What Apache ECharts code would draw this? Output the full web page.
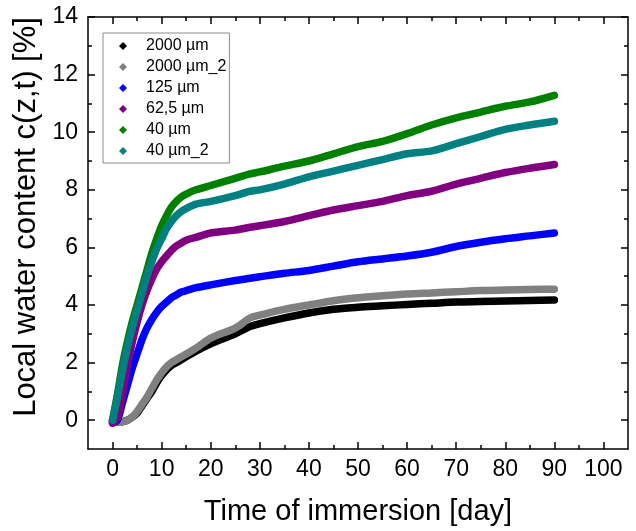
<!DOCTYPE html>
<html>
<head>
<meta charset="utf-8">
<script src="https://cdn.jsdelivr.net/npm/echarts@6/dist/echarts.min.js"></script>
<style>html,body{margin:0;padding:0;background:#fff}#c{width:636px;height:531px}</style>
</head>
<body>
<div id="c"></div>
<script>
// ---- data ----
const days = [0,1,2,3,4,5,6,7,8,9,10,11,12,13,14,15,17,20,25,28,30,35,40,45,50,55,60,65,70,75,80,85,90];
const seriesNames = ['2000 µm','2000 µm_2','125 µm','62,5 µm','40 µm','40 µm_2'];
const v2000   = [0,-0.05,-0.05,0,0.1,0.25,0.5,0.75,1.0,1.3,1.55,1.75,1.9,2.0,2.1,2.2,2.4,2.65,3.0,3.25,3.35,3.55,3.72,3.85,3.92,3.97,4.02,4.06,4.1,4.12,4.14,4.16,4.17];
const v2000_2 = [0,-0.05,-0.05,0,0.1,0.3,0.55,0.8,1.1,1.4,1.65,1.85,2.0,2.1,2.2,2.3,2.5,2.85,3.2,3.55,3.65,3.85,4.0,4.15,4.25,4.32,4.38,4.42,4.46,4.5,4.52,4.54,4.55];
const v125    = [-0.1,0,0.6,1.2,1.8,2.3,2.8,3.2,3.5,3.75,3.95,4.1,4.25,4.35,4.45,4.5,4.6,4.7,4.85,4.93,4.98,5.1,5.2,5.35,5.5,5.6,5.7,5.83,6.03,6.18,6.3,6.4,6.5];
const v62_5   = [-0.1,0.1,0.9,1.9,2.7,3.4,4.0,4.5,4.9,5.25,5.5,5.7,5.9,6.05,6.15,6.25,6.35,6.5,6.6,6.7,6.75,6.9,7.1,7.3,7.45,7.6,7.8,7.95,8.2,8.4,8.6,8.75,8.88];
const v40     = [0,0.9,1.9,2.7,3.4,4.0,4.6,5.2,5.8,6.3,6.75,7.1,7.4,7.6,7.75,7.85,8.0,8.15,8.4,8.55,8.62,8.82,9.0,9.25,9.5,9.68,9.95,10.25,10.5,10.7,10.9,11.05,11.28];
const v40_2   = [0,0.8,1.7,2.5,3.2,3.8,4.4,5.0,5.5,5.95,6.3,6.65,6.9,7.1,7.25,7.35,7.5,7.6,7.8,7.95,8.0,8.2,8.45,8.65,8.85,9.05,9.25,9.35,9.6,9.85,10.1,10.25,10.38];
const seriesColors = ['#000000','#808080','#0000ff','#800080','#008000','#008080'];
const xMajor = [0,10,20,30,40,50,60,70,80,90,100];
const xMinor = [5,15,25,35,45,55,65,75,85,95];
const yMajor = [0,2,4,6,8,10,12,14];
const yMinor = [1,3,5,7,9,11,13];

const allValues = [v2000, v2000_2, v125, v62_5, v40, v40_2];
const FONT = '"Liberation Sans", Arial, sans-serif';

function xAx(pos, vals, len, labels, line) {
  return {
    type:'value', position:pos, min:-5, max:105,
    axisLine:{show:line, onZero:false, lineStyle:{color:'#000', width:1.5}},
    axisTick:{show:true, inside:true, length:len, customValues:vals, lineStyle:{color:'#000', width:1.5}},
    axisLabel:{show:labels, customValues:vals, color:'#000', fontSize:23, fontFamily:FONT, margin:9},
    splitLine:{show:false}
  };
}
function yAx(pos, vals, len, labels, line) {
  return {
    type:'value', position:pos, min:-1, max:14,
    axisLine:{show:line, onZero:false, lineStyle:{color:'#000', width:1.5}},
    axisTick:{show:true, inside:true, length:len, customValues:vals, lineStyle:{color:'#000', width:1.5}},
    axisLabel:{show:labels, customValues:vals, color:'#000', fontSize:23, fontFamily:FONT, margin:10},
    splitLine:{show:false}
  };
}

const xAxes = [xAx('bottom', xMajor, 7, true, true), xAx('bottom', xMinor, 4, false, false),
               xAx('top', xMajor, 7, false, true), xAx('top', xMinor, 4, false, false)];
xAxes[0].name = 'Time of immersion [day]';
xAxes[0].nameLocation = 'middle';
xAxes[0].nameGap = 48;
xAxes[0].nameTextStyle = {fontSize:29, fontFamily:FONT, color:'#000'};
const yAxes = [yAx('left', yMajor, 7, true, true), yAx('left', yMinor, 4, false, false),
               yAx('right', yMajor, 7, false, true), yAx('right', yMinor, 4, false, false)];
yAxes[0].name = 'Local water content c(z,t) [%]';
yAxes[0].nameLocation = 'middle';
yAxes[0].nameGap = 41;
yAxes[0].nameTextStyle = {fontSize:31, fontFamily:FONT, color:'#000', padding:[0,0,0,32]};

const series = seriesNames.map((n, i) => ({
  name:n, type:'line', xAxisIndex:0, yAxisIndex:0,
  data: days.map((d, k) => [d, allValues[i][k]]),
  showSymbol:false, symbol:'diamond', smooth:0.3,
  lineStyle:{color:seriesColors[i], width:7.5, cap:'round', join:'round'},
  itemStyle:{color:seriesColors[i]},
  z: 2 + i, animation:false
}));

const chart = echarts.init(document.getElementById('c'), null, {renderer:'canvas'});
chart.setOption({
  backgroundColor:'#fff',
  animation:false,
  grid:{left:88, right:8, top:17, bottom:79, containLabel:false},
  xAxis:xAxes,
  yAxis:yAxes,
  legend:{
    orient:'vertical', left:103, top:33,
    data: seriesNames.map(n => ({name:n, icon:'diamond'})),
    itemWidth:8, itemHeight:8, itemGap:5,
    padding:[5,3,4,16],
    borderColor:'#8c8c8c', borderWidth:1,
    textStyle:{fontSize:16, fontFamily:FONT, color:'#000', lineHeight:15, padding:[0,0,0,14]},
    selectedMode:false
  },
  series: series
});
</script>
</body>
</html>
